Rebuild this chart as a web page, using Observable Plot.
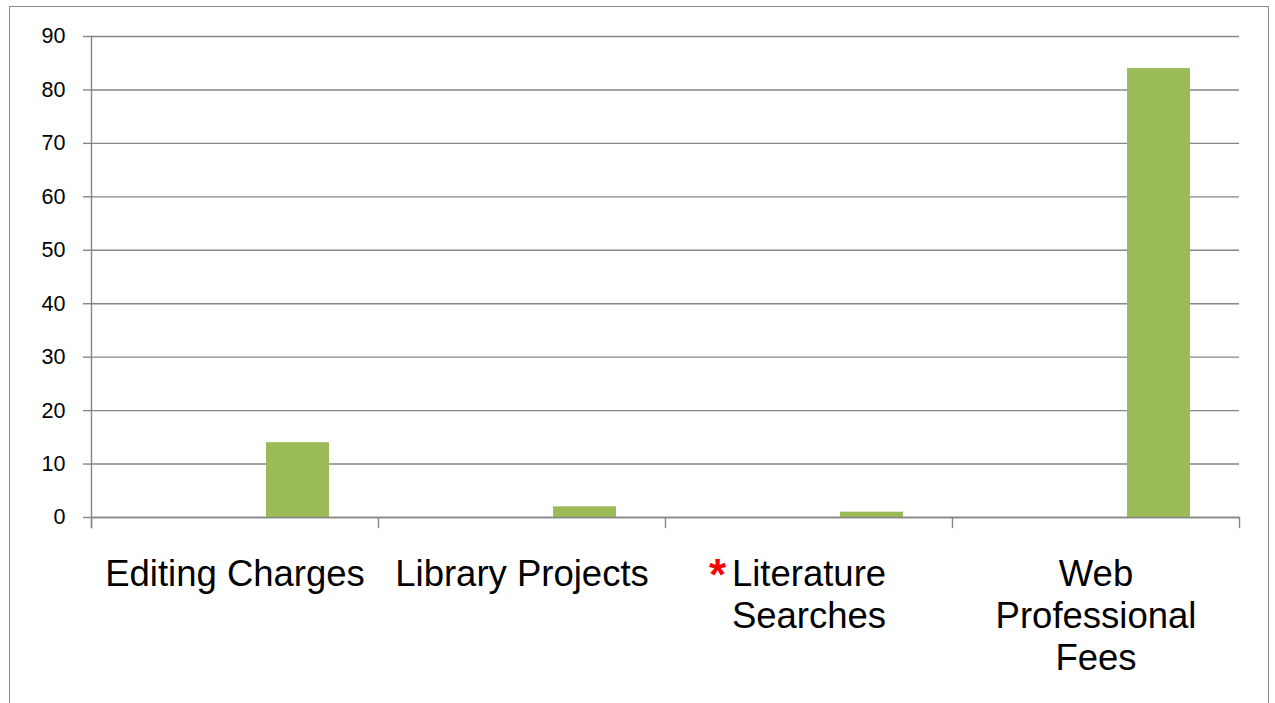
<!DOCTYPE html>
<html><head><meta charset="utf-8">
<script src="https://cdn.jsdelivr.net/npm/d3@7"></script>
<script src="https://cdn.jsdelivr.net/npm/@observablehq/plot@0.6"></script>
<style>
html,body{margin:0;padding:0;background:#fff;overflow:hidden;width:1275px;height:703px}
#border{position:absolute;left:9px;top:6px;width:1260px;height:800px;border:1.5px solid #8a8a8a;box-sizing:border-box}
#chart{position:absolute;left:0;top:0}
</style></head><body><div id="border"></div><div id="chart"></div>
<script>
const categories = ["Editing Charges", "Library Projects", "Literature Searches", "Web Professional Fees"];
const categoryLabels = ["Editing Charges", "Library Projects", "Literature\nSearches", "Web\nProfessional\nFees"];
const series = ["Series 1", "Series 2", "Series 3"];
const series1Values = [null, null, null, null];
const series2Values = [null, null, null, null];
const series3Values = [14, 2, 1, 84];
const yTicks = [0, 10, 20, 30, 40, 50, 60, 70, 80, 90];
const flaggedCategory = "Literature Searches";

const seriesValues = [series1Values, series2Values, series3Values];
const rows = categories.flatMap((c, i) =>
  series.map((s, j) => ({category: c, series: s, value: seriesValues[j][i]}))
).filter(d => d.value != null);

const gray = "#868686";
const chart = Plot.plot({
  width: 1275, height: 703,
  marginTop: 36, marginLeft: 90, marginRight: 35, marginBottom: 186,
  style: {fontFamily: "'Liberation Sans', Arial, sans-serif", background: "transparent", color: "#000"},
  fx: {domain: categories, padding: 0, axis: null, label: null},
  x: {domain: series, paddingInner: 0, paddingOuter: 0.75, axis: null},
  y: {domain: [0, 90], axis: null},
  marks: [
    Plot.gridY(yTicks, {stroke: gray, strokeOpacity: 1, strokeWidth: 1.4}),
    Plot.axisY(yTicks, {tickSize: 8, tickPadding: 18, stroke: gray, strokeOpacity: 1, strokeWidth: 1.4, fontSize: 21.5, fill: "#000", label: null}),
    Plot.barY(rows, {fx: "category", x: "series", y: "value", fill: "#9BBB59"}),
    Plot.ruleY([0], {stroke: gray, strokeWidth: 1.6}),
    Plot.frame({anchor: "left", facetAnchor: "left", insetBottom: -10, stroke: gray, strokeWidth: 1.4}),
    Plot.frame({anchor: "left", insetTop: 481, insetBottom: -10, stroke: gray, strokeWidth: 1.4}),
    Plot.frame({anchor: "right", facetAnchor: "right", insetTop: 481, insetBottom: -10, stroke: gray, strokeWidth: 1.4}),
    Plot.text(categories, {fx: d => d, text: (d, i) => categoryLabels[i], frameAnchor: "bottom", lineAnchor: "top", dy: 39, fontSize: 36.5, lineHeight: 1.15, fill: "#000"}),
    Plot.text([flaggedCategory], {fx: d => d, text: () => "*", frameAnchor: "bottom", lineAnchor: "top", dy: 41, dx: -83, textAnchor: "end", fill: "#ff0000", fontSize: 44, fontWeight: "bold"})
  ]
});
document.getElementById("chart").appendChild(chart);
</script>
</body></html>
